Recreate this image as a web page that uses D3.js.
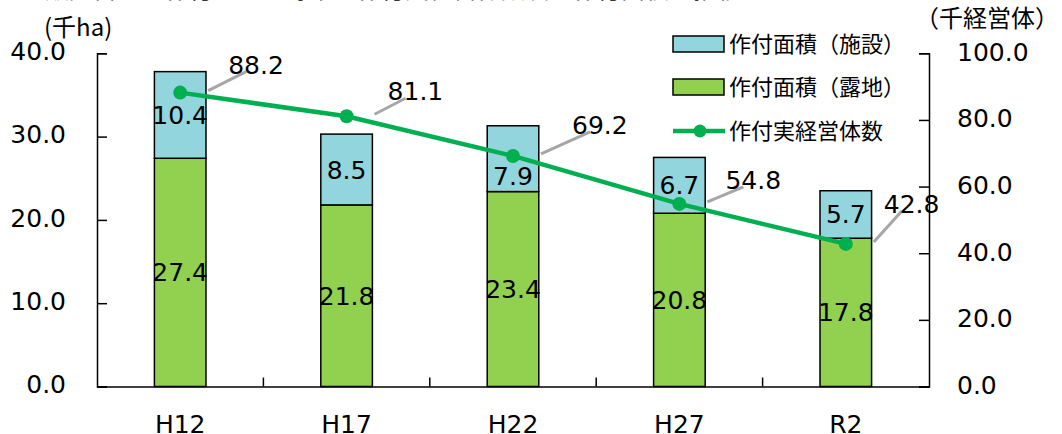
<!DOCTYPE html>
<html>
  <head>
    <meta charset="utf-8">
    <title>作付実経営体数及び作付面積の推移</title>
    <script src="https://d3js.org/d3.v7.min.js"></script>
    <style>
      body { margin: 0; background: #fff; }
      svg { display: block; }
    </style>
  </head>
  <body>
    <svg width="1062" height="434"></svg>
    <script>
      // data
      var years = ["H12", "H17", "H22", "H27", "R2"];
      var areaOpen = [27.4, 21.8, 23.4, 20.8, 17.8];      // 作付面積（露地）千ha
      var areaHouse = [10.4, 8.5, 7.9, 6.7, 5.7];         // 作付面積（施設）千ha
      var farms = [88.2, 81.1, 69.2, 54.8, 42.8];         // 作付実経営体数 千経営体
      var leftTicks = [0, 10, 20, 30, 40];
      var rightTicks = [0, 20, 40, 60, 80, 100];
      var seriesNames = ["作付面積（施設）", "作付面積（露地）", "作付実経営体数"];

      // layout only: where each line label sits relative to its point,
      // and the hand-moved 施設 label of H22
      var labelShift = [[48, -19], [41, -16], [59, -22], [46, -15], [38, -31]];
      var houseNudge = [0, 0, 17, 0, 0];

      var font = "'DejaVu Sans', 'Noto Sans CJK JP', sans-serif";
      var jpFont = "'Noto Sans CJK JP', sans-serif";
      var blue = "#93D5DC", green = "#92D050", lineGreen = "#00B050";
      var fs = 25;

      var svg = d3.select("svg");

      var x = d3.scaleBand().domain(years).range([97, 929]).paddingInner(0.69).paddingOuter(0.345);
      var yL = d3.scaleLinear().domain([0, 40]).range([386.5, 53.3]);
      var yR = d3.scaleLinear().domain([0, 100]).range([386.5, 53.3]);

      // cut off title at the very top
      svg.append("text").attr("x", 45).attr("y", -2)
        .attr("font-family", jpFont).attr("font-size", 24)
        .text("販売目的で作付けした野菜の作付実経営体数及び作付面積の推移");

      // bars
      var rows = years.map(function (d, i) { return { year: d, open: areaOpen[i], house: areaHouse[i], nudge: houseNudge[i] }; });
      var g = svg.append("g");
      g.selectAll("rect.open").data(rows).enter().append("rect")
        .attr("x", function (d) { return x(d.year); })
        .attr("y", function (d) { return yL(d.open); })
        .attr("width", x.bandwidth())
        .attr("height", function (d) { return yL(0) - yL(d.open); })
        .attr("fill", green).attr("stroke", "#000").attr("stroke-width", 1.5);
      g.selectAll("rect.house").data(rows).enter().append("rect")
        .attr("x", function (d) { return x(d.year); })
        .attr("y", function (d) { return yL(d.open + d.house); })
        .attr("width", x.bandwidth())
        .attr("height", function (d) { return yL(d.open) - yL(d.open + d.house); })
        .attr("fill", blue).attr("stroke", "#000").attr("stroke-width", 1.5);

      // axes
      var axisL = svg.append("g").attr("transform", "translate(97,0)")
        .call(d3.axisLeft(yL).tickValues(leftTicks).tickSizeInner(-10).tickSizeOuter(-10).tickFormat(d3.format(".1f")).tickPadding(31));
      var axisR = svg.append("g").attr("transform", "translate(929,0)")
        .call(d3.axisRight(yR).tickValues(rightTicks).tickSizeInner(-10).tickSizeOuter(-10).tickFormat(d3.format(".1f")).tickPadding(28));
      var axisB = svg.append("g").attr("transform", "translate(0,386.5)")
        .call(d3.axisBottom(x).tickSize(0).tickPadding(0));
      [axisL, axisR, axisB].forEach(function (a) {
        a.selectAll("path, line").attr("stroke", "#000").attr("stroke-width", 1.5);
        a.selectAll("text").attr("font-family", font).attr("font-size", fs).attr("fill", "#000");
      });
      axisL.selectAll(".tick text").attr("dy", "0.25em");
      axisR.selectAll(".tick text").attr("dy", "0.28em");
      axisB.selectAll(".tick text").attr("dy", "1.85em");
      // ticks between categories
      axisB.selectAll("line.sep").data(years.slice(1)).enter().append("line")
        .attr("class", "sep")
        .attr("x1", function (d) { return x(d) - x.step() * x.paddingInner() / 2; })
        .attr("x2", function (d) { return x(d) - x.step() * x.paddingInner() / 2; })
        .attr("y1", 0).attr("y2", -9)
        .attr("stroke", "#000").attr("stroke-width", 1.5);

      // segment labels
      var lab = svg.append("g").attr("font-family", font).attr("font-size", fs).attr("text-anchor", "middle");
      lab.selectAll("text.o").data(rows).enter().append("text")
        .attr("x", function (d) { return x(d.year) + x.bandwidth() / 2; })
        .attr("y", function (d) { return (yL(0) + yL(d.open)) / 2; })
        .attr("dy", "0.36em")
        .text(function (d) { return d.open.toFixed(1); });
      lab.selectAll("text.h").data(rows).enter().append("text")
        .attr("x", function (d) { return x(d.year) + x.bandwidth() / 2; })
        .attr("y", function (d) { return (yL(d.open) + yL(d.open + d.house)) / 2 + d.nudge; })
        .attr("dy", "0.36em")
        .text(function (d) { return d.house.toFixed(1); });

      // line
      var pts = years.map(function (d, i) {
        return { x: x(d) + x.bandwidth() / 2, y: yR(farms[i]), v: farms[i], s: labelShift[i] };
      });
      svg.append("path").datum(pts)
        .attr("d", d3.line().x(function (d) { return d.x; }).y(function (d) { return d.y; }))
        .attr("fill", "none").attr("stroke", lineGreen).attr("stroke-width", 4.5);
      svg.selectAll("circle.pt").data(pts).enter().append("circle")
        .attr("cx", function (d) { return d.x; }).attr("cy", function (d) { return d.y; })
        .attr("r", 7).attr("fill", lineGreen);

      // leader lines + line labels
      svg.selectAll("line.lead").data(pts).enter().append("line")
        .attr("x1", function (d) { return d.x + 28; })
        .attr("y1", function (d) { return d.y - 2; })
        .attr("x2", function (d) { return d.x + d.s[0] + 18; })
        .attr("y2", function (d) { return d.y + d.s[1] - 2; })
        .attr("stroke", "#A6A6A6").attr("stroke-width", 3);
      svg.selectAll("text.lv").data(pts).enter().append("text")
        .attr("x", function (d) { return d.x + d.s[0]; })
        .attr("y", function (d) { return d.y + d.s[1]; })
        .attr("font-family", font).attr("font-size", fs)
        .text(function (d) { return d.v.toFixed(1); });

      // unit labels
      svg.append("text").attr("x", 44).attr("y", 36)
        .attr("font-family", jpFont).attr("font-size", 24).text("(千ha)");
      svg.append("text").attr("x", 915).attr("y", 27)
        .attr("font-family", jpFont).attr("font-size", 24).text("（千経営体）");

      // legend
      var leg = svg.append("g").attr("font-family", jpFont).attr("font-size", 22);
      var legY = [44, 87, 131];
      [blue, green].forEach(function (c, i) {
        leg.append("rect").attr("x", 673).attr("y", legY[i] - 8).attr("width", 51).attr("height", 16)
          .attr("fill", c).attr("stroke", "#000").attr("stroke-width", 1.5);
      });
      leg.append("line").attr("x1", 673).attr("x2", 725).attr("y1", legY[2]).attr("y2", legY[2])
        .attr("stroke", lineGreen).attr("stroke-width", 4.5);
      leg.append("circle").attr("cx", 700).attr("cy", legY[2]).attr("r", 6.5).attr("fill", lineGreen);
      leg.selectAll("text").data(seriesNames).enter().append("text")
        .attr("x", 729).attr("y", function (d, i) { return legY[i]; })
        .attr("dy", "0.36em").text(function (d) { return d; });
    </script>
  </body>
</html>
